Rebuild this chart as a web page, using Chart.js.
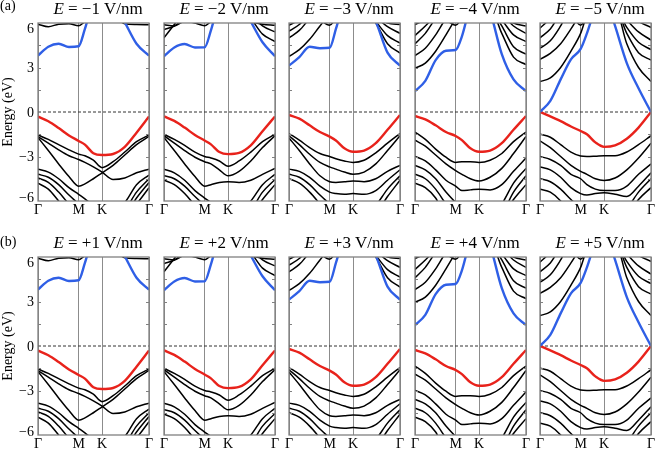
<!DOCTYPE html>
<html><head><meta charset="utf-8">
<script src="https://cdn.jsdelivr.net/npm/chart.js@4.4.1/dist/chart.umd.min.js"></script>
<style>
html,body{margin:0;padding:0;background:#fff;overflow:hidden;}
#fig{position:relative;width:655px;height:451px;overflow:hidden;background:#fff;font-family:'Liberation Serif','Times New Roman',serif;color:#000;}
canvas{position:absolute;}
.ttl{position:absolute;font-size:17px;line-height:17px;white-space:nowrap;transform:translateX(-50%);z-index:2;}
.lab{position:absolute;font-size:14px;line-height:14px;white-space:nowrap;z-index:2;}
.ylab{position:absolute;font-size:14px;line-height:14px;white-space:nowrap;transform:translate(-50%,-50%) rotate(-90deg);z-index:2;}
</style></head><body><div id="fig"></div>
<script>
// k-path sample positions (Γ=0, M=0.866, K=1.366, Γ=2.366)
const kPath   = [0, 0.22, 0.44, 0.66, 0.866, 1.0, 1.18, 1.366, 1.6, 1.85, 2.1, 2.366];
const kTicks  = [0, 0.866, 1.366, 2.366];
const kLabels = ['Γ', 'M', 'K', 'Γ'];
const yTicks  = [-6, -3, 0, 3, 6];
const yMinorTicks = [-4.5, -3, -1.5, 1.5, 3, 4.5];
const zeroLine = [0, 0];
const fieldTop = [-1, -2, -3, -4, -5];
const fieldBottom = [1, 2, 3, 4, 5];

// |E| = 1 V/nm
const red1  = [-0.31, -0.62, -1.08, -1.58, -1.95, -2.2, -2.78, -2.9, -2.83, -2.35, -1.4, -0.31];
const blue1 = [3.8, 4.4, 4.6, 4.38, 4.43, 5.6, 7.5, 8.5, 7.5, 6.05, 4.6, 3.8];
const black1 = [
  [5.92, 5.75, 5.92, 5.95, 5.82, 6.1, 6.6, 6.8, 6.5, 5.95, 5.9, 5.88],
  [-1.55, -1.85, -2.2, -2.55, -2.84, -2.95, -3.25, -3.75, -3.35, -2.7, -2.0, -1.55],
  [-1.65, -2.1, -2.55, -2.95, -3.2, -3.4, -3.7, -4.05, -4.55, -4.45, -4.1, -3.85],
  [-1.72, -2.6, -3.5, -4.35, -5.0, -4.85, -4.5, -4.1, -3.6, -2.9, -2.2, -1.65],
  [-3.85, -4.05, -4.5, -5.1, -5.55, -5.85, -6.3, -6.6, -6.6, -6.1, -4.9, -4.25],
  [-4.2, -4.4, -4.9, -5.6, -6.2, -6.6, -7, -7, -7, -6.6, -5.4, -4.5],
  [-4.45, -4.75, -5.4, -6.2, -6.8, -7, -7, -7, -7, -6.9, -5.8, -4.75],
  [-4.8, -5.2, -6.0, -6.8, -7, -7, -7, -7, -7, -7, -6.2, -5.1]
];
// |E| = 2 V/nm
const red2  = [-0.3, -0.6, -1.05, -1.55, -1.92, -2.18, -2.7, -2.84, -2.76, -2.25, -1.3, -0.3];
const blue2 = [3.76, 4.35, 4.58, 4.35, 4.36, 5.5, 7.5, 8.5, 7.5, 6.1, 4.7, 3.76];
const black2 = [
  [5.88, 5.8, 6.1, 6.0, 5.82, 6.1, 6.6, 6.8, 6.5, 6.1, 5.92, 5.85],
  [5.55, 5.8, 6.3, 6.6, 6.6, 7, 7, 7, 7, 6.6, 5.8, 5.4],
  [5.0, 5.9, 6.8, 7, 7, 7, 7, 7, 7, 6.3, 5.25, 4.75],
  [-1.5, -1.85, -2.25, -2.7, -3.0, -3.1, -3.3, -3.65, -3.3, -2.7, -2.0, -1.5],
  [-1.6, -2.1, -2.6, -3.05, -3.35, -3.5, -3.9, -4.3, -4.0, -3.3, -2.4, -1.6],
  [-1.72, -2.6, -3.5, -4.35, -5.0, -4.9, -4.75, -4.7, -4.75, -4.6, -4.2, -3.8],
  [-3.85, -4.1, -4.6, -5.3, -5.8, -6.1, -6.5, -6.7, -6.6, -6.0, -4.9, -4.2],
  [-4.3, -4.5, -5.0, -5.7, -6.3, -6.7, -7, -7, -7, -6.6, -5.4, -4.55],
  [-4.6, -4.9, -5.5, -6.3, -7, -7, -7, -7, -7, -7, -5.9, -4.9]
];
// |E| = 3 V/nm
const red3  = [-0.2, -0.45, -0.9, -1.35, -1.66, -1.92, -2.45, -2.68, -2.6, -2.1, -1.2, -0.2];
const blue3 = [3.13, 3.7, 4.4, 4.3, 4.33, 5.6, 7.5, 8.5, 7.5, 6.1, 4.0, 3.13];
const black3 = [
  [5.85, 6.2, 6.6, 6.2, 5.85, 6.3, 7, 7, 7, 6.5, 6.0, 5.9],
  [5.45, 5.9, 6.6, 7, 7, 7, 7, 7, 7, 6.4, 5.75, 5.3],
  [5.0, 5.5, 6.3, 7, 7, 7, 7, 7, 7, 6.1, 5.15, 4.65],
  [3.75, 4.2, 4.9, 5.8, 6.6, 7, 7, 7, 7, 6.0, 4.6, 3.97],
  [-1.45, -1.9, -2.4, -2.8, -3.0, -3.15, -3.3, -3.4, -3.25, -2.75, -2.1, -1.45],
  [-1.6, -2.2, -2.85, -3.4, -3.7, -3.85, -4.05, -4.2, -4.05, -3.5, -2.6, -1.6],
  [-1.75, -2.6, -3.5, -4.3, -4.7, -4.75, -4.7, -4.65, -4.7, -4.5, -4.0, -3.6],
  [-3.85, -4.0, -4.4, -5.0, -5.4, -5.5, -5.55, -5.5, -5.55, -5.3, -4.6, -3.9],
  [-4.2, -4.4, -4.9, -5.6, -6.2, -6.6, -7, -7, -7, -6.3, -5.2, -4.3],
  [-4.5, -4.8, -5.4, -6.2, -7, -7, -7, -7, -7, -6.8, -5.7, -4.6]
];
// |E| = 4 V/nm
const red4  = [-0.27, -0.5, -0.9, -1.35, -1.62, -1.9, -2.45, -2.68, -2.6, -2.1, -1.2, -0.27];
const blue4 = [1.41, 2.1, 3.5, 4.13, 4.18, 5.1, 7.2, 8.5, 6.8, 3.9, 2.2, 1.41];
const black4 = [
  [5.9, 6.2, 6.5, 6.2, 5.85, 6.3, 7, 7, 7, 6.5, 6.0, 5.8],
  [5.15, 5.8, 6.5, 7, 7, 7, 7, 7, 7, 6.6, 5.8, 5.3],
  [4.6, 5.3, 6.3, 7, 7, 7, 7, 7, 7, 6.2, 5.2, 4.75],
  [3.8, 4.3, 5.2, 6.3, 7, 7, 7, 7, 7, 5.8, 4.4, 3.9],
  [2.95, 3.3, 4.1, 5.2, 6.3, 7, 7, 7, 7, 5.3, 3.7, 3.2],
  [-1.35, -1.85, -2.5, -3.05, -3.4, -3.35, -3.35, -3.4, -3.25, -2.8, -2.0, -1.35],
  [-1.9, -2.3, -2.9, -3.5, -3.95, -4.2, -4.5, -4.65, -4.4, -3.8, -2.8, -1.65],
  [-3.0, -3.3, -3.9, -4.6, -5.0, -5.3, -5.25, -5.2, -5.25, -4.9, -4.0, -3.1],
  [-3.6, -3.9, -4.5, -5.4, -6.1, -6.5, -7, -7, -7, -6.2, -4.8, -3.8],
  [-4.2, -4.5, -5.2, -6.2, -7, -7, -7, -7, -7, -6.8, -5.4, -4.3],
  [-4.8, -5.1, -5.8, -7, -7, -7, -7, -7, -7, -7, -5.9, -4.9]
];
// |E| = 5 V/nm
const red5  = [0, -0.3, -0.62, -0.98, -1.28, -1.5, -2.05, -2.35, -2.25, -1.8, -1.05, 0];
const blue5 = [0, 0.75, 2.2, 3.55, 4.25, 5.3, 7.0, 8.0, 5.8, 3.3, 1.6, 0];
const black5 = [
  [5.65, 6.3, 7, 6.6, 5.85, 6.4, 7, 7, 7, 6.6, 6.1, 5.7],
  [5.0, 5.6, 6.6, 7, 7, 7, 7, 7, 7, 6.2, 5.4, 4.85],
  [4.3, 4.8, 5.8, 7, 7, 7, 7, 7, 7, 5.7, 4.7, 4.2],
  [3.55, 3.95, 4.6, 5.6, 6.6, 7, 7, 7, 7, 5.3, 4.0, 3.5],
  [2.05, 2.3, 3.0, 4.1, 5.3, 6.5, 7, 7, 7, 4.6, 3.0, 2.05],
  [-1.5, -1.7, -2.2, -2.7, -2.97, -3.0, -2.98, -2.95, -2.95, -2.7, -2.2, -1.6],
  [-1.95, -2.4, -3.0, -3.6, -4.0, -4.2, -4.5, -4.62, -4.45, -3.9, -3.1, -2.1],
  [-3.0, -3.2, -3.6, -4.2, -4.5, -4.9, -5.2, -5.3, -5.3, -5.0, -4.2, -3.5],
  [-3.7, -3.9, -4.4, -5.1, -5.5, -5.6, -5.5, -5.45, -5.55, -5.7, -5.0, -4.1],
  [-4.5, -4.7, -5.2, -5.9, -6.5, -7, -7, -7, -7, -6.5, -5.4, -4.5],
  [-5.2, -5.4, -6.0, -7, -7, -7, -7, -7, -7, -7, -5.9, -5.1]
];

const bandSets = {
  1: {red: red1, blue: blue1, black: black1},
  2: {red: red2, blue: blue2, black: black2},
  3: {red: red3, blue: blue3, black: black3},
  4: {red: red4, blue: blue4, black: black4},
  5: {red: red5, blue: blue5, black: black5}
};

const FONT = "'Liberation Serif','Times New Roman',serif";
const fmt = v => v < 0 ? '\u2212' + Math.abs(v) : String(v);
const pts = arr => kPath.map((x, i) => ({x, y: arr[i]}));

const framePlugin = {
  id: 'frame',
  afterDatasetsDraw(chart, args, opts) {
    const {ctx, chartArea: a} = chart;
    const y = chart.scales.y;
    ctx.save();
    ctx.strokeStyle = '#808080';
    ctx.lineWidth = 1;
    ctx.beginPath();
    yMinorTicks.forEach(v => {
      const py = Math.round(y.getPixelForValue(v)) + 0.5;
      ctx.moveTo(a.left, py); ctx.lineTo(a.left + 3, py);
      ctx.moveTo(a.right, py); ctx.lineTo(a.right - 3, py);
    });
    ctx.stroke();
    ctx.lineWidth = 1.3;
    ctx.strokeRect(a.left, a.top, a.right - a.left, a.bottom - a.top);
    if (opts.showY) {
      ctx.font = '14px ' + FONT;
      ctx.fillStyle = '#000';
      ctx.textAlign = 'right';
      ctx.textBaseline = 'alphabetic';
      y.ticks.forEach(t => {
        const v = t.value;
        let base;
        if (v === y.max) base = a.top + 9.5;
        else if (v === y.min) base = a.bottom + 0.8;
        else base = y.getPixelForValue(v) + 4.5;
        ctx.fillText(fmt(v), a.left - 4, base);
      });
    }
    ctx.restore();
  }
};

const fig = document.getElementById('fig');
const plotLefts = [38, 164, 289, 415, 540];
const plotTops = [23, 257];
const PW = 111, PH = 178, YW = 30, PADT = 10, PADR = 10, XH = 22;

function addDiv(cls, html, style) {
  const d = document.createElement('div');
  d.className = cls; d.innerHTML = html;
  Object.assign(d.style, style);
  fig.appendChild(d);
}

function makePanel(row, col, field) {
  const set = bandSets[Math.abs(field)];
  const cv = document.createElement('canvas');
  cv.width = YW + PW + PADR; cv.height = PADT + PH + XH;
  cv.style.left = (plotLefts[col] - YW) + 'px';
  cv.style.top = (plotTops[row] - PADT) + 'px';
  fig.appendChild(cv);

  const datasets = [];
  datasets.push({data: pts(set.blue), borderColor: '#2f5fe6', borderWidth: 2.4});
  datasets.push({data: pts(set.red), borderColor: '#e8221b', borderWidth: 2.4});
  set.black.forEach(b => datasets.push({data: pts(b), borderColor: '#000', borderWidth: 1.5}));
  datasets.push({data: [{x: kTicks[0], y: zeroLine[0]}, {x: kTicks[3], y: zeroLine[1]}],
    borderColor: '#333', borderWidth: 1, borderDash: [3, 2], cubicInterpolationMode: 'default', tension: 0});

  new Chart(cv, {
    type: 'line',
    data: {datasets},
    options: {
      responsive: false, animation: false, devicePixelRatio: 1,
      layout: {padding: {left: 0, right: PADR, top: PADT, bottom: 0}},
      plugins: {legend: {display: false}, tooltip: {enabled: false}, frame: {showY: col === 0}},
      elements: {point: {radius: 0}, line: {cubicInterpolationMode: 'monotone', fill: false, borderJoinStyle: 'round'}},
      scales: {
        x: {
          type: 'linear', min: 0, max: 2.366,
          afterBuildTicks: s => { s.ticks = kTicks.map(v => ({value: v})); },
          ticks: {callback: (v, i) => kLabels[i], font: {family: FONT, size: 14}, color: '#000',
                  padding: 1, maxRotation: 0, autoSkip: false},
          grid: {color: '#8c8c8c', lineWidth: 1, drawTicks: false},
          border: {display: false},
          afterFit: s => { s.height = XH; }
        },
        y: {
          type: 'linear', min: -6, max: 6,
          afterBuildTicks: s => { s.ticks = yTicks.map(v => ({value: v})); },
          ticks: {display: false},
          grid: {display: false, drawTicks: false},
          border: {display: false},
          afterFit: s => { s.width = YW; }
        }
      }
    },
    plugins: [framePlugin]
  });

  const sign = field < 0 ? '\u2212' : '+';
  addDiv('ttl', '<i>E</i> = ' + sign + Math.abs(field) + ' V/nm',
    {left: (plotLefts[col] + PW / 2 + 4.5) + 'px', top: (row === 0 ? 0 : 234) + 'px'});
}

fieldTop.forEach((f, c) => makePanel(0, c, f));
fieldBottom.forEach((f, c) => makePanel(1, c, f));

addDiv('lab', '(a)', {left: '0px', top: '-1px'});
addDiv('lab', '(b)', {left: '0px', top: '235px'});
addDiv('ylab', 'Energy (eV)', {left: '8px', top: '112px'});
addDiv('ylab', 'Energy (eV)', {left: '8px', top: '346px'});
</script>
</body></html>
